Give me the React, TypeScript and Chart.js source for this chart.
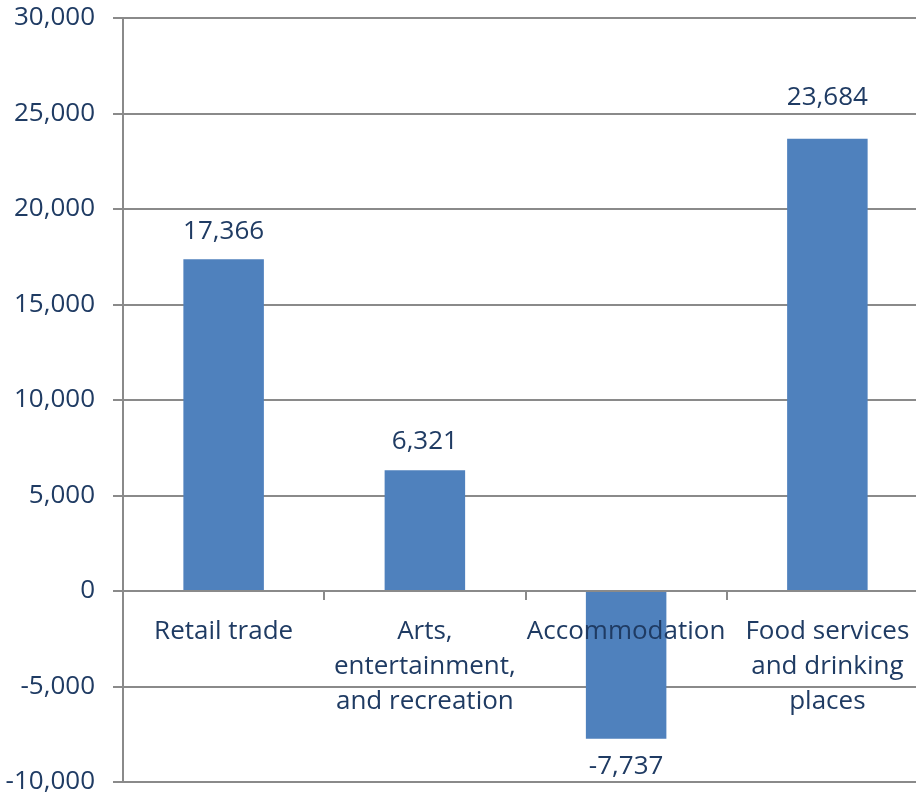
import React, { useEffect, useRef } from "react";
import { Chart, registerables } from "chart.js";

Chart.register(...registerables);

const categories: string[][] = [
  ["Retail trade"],
  ["Arts,", "entertainment,", "and recreation"],
  ["Accommodation"],
  ["Food services", "and drinking", "places"],
];
const values: number[] = [17366, 6321, -7737, 23684];
const yMin = -10000;
const yMax = 30000;
const yStep = 5000;

const TEXT = "#1F3B63";
const GRID = "#8a8a8a";
const BAR = "#4F81BD";
const FONT = "'Open Sans', sans-serif";

// distance (px) of each value label from the bar end
const labelGap = [28, 29, 28, 41];

const fmt = (v: number) => v.toLocaleString("en-US");

const valueLabels = {
  id: "valueLabels",
  afterDatasetsDraw(chart: any) {
    const ctx = chart.ctx;
    const meta = chart.getDatasetMeta(0);
    ctx.save();
    ctx.font = `26px ${FONT}`;
    ctx.fillStyle = TEXT;
    ctx.textAlign = "center";
    ctx.textBaseline = "middle";
    meta.data.forEach((el: any, i: number) => {
      const v = values[i];
      const g = labelGap[i];
      const y = v >= 0 ? el.y - g : el.y + g;
      ctx.fillText(fmt(v), el.x, y);
    });
    ctx.restore();
  },
};

export default function App() {
  const ref = useRef<HTMLCanvasElement>(null);
  useEffect(() => {
    if (!ref.current) return;
    const chart = new Chart(ref.current, {
      type: "bar",
      data: {
        labels: categories,
        datasets: [
          {
            data: values,
            backgroundColor: BAR,
            borderWidth: 0,
            categoryPercentage: 1,
            barPercentage: 0.4,
          },
        ],
      },
      options: {
        responsive: false,
        animation: false,
        devicePixelRatio: 1,
        layout: { padding: { top: 18, bottom: 13, left: 0, right: 0 } },
        plugins: { legend: { display: false }, tooltip: { enabled: false } },
        scales: {
          x: {
            position: { y: 0 } as any,
            offset: true,
            grid: {
              display: true,
              offset: true,
              drawOnChartArea: false,
              drawTicks: true,
              tickLength: 8,
              color: GRID,
              lineWidth: 2,
            },
            border: { display: true, color: GRID, width: 2, z: 1 },
            ticks: {
              z: 2,
              color: TEXT,
              font: { family: FONT, size: 26, lineHeight: 1.35 },
              padding: 15,
              maxRotation: 0,
              minRotation: 0,
              autoSkip: false,
            },
            afterFit: (scale: any) => {
              scale.paddingLeft = 0;
              scale.paddingRight = 0;
              scale.paddingTop = 0;
              scale.paddingBottom = 0;
            },
          },
          y: {
            min: yMin,
            max: yMax,
            afterFit: (scale: any) => {
              scale.width = 123;
              scale.paddingTop = 0;
              scale.paddingBottom = 0;
            },
            grid: {
              color: GRID,
              lineWidth: 2,
              drawTicks: true,
              tickLength: 10,
            },
            border: { display: true, color: GRID, width: 2 },
            ticks: {
              stepSize: yStep,
              color: TEXT,
              font: { family: FONT, size: 26, lineHeight: 1.0 },
              padding: 18,
              callback: (v: any) => fmt(Number(v)),
            },
          },
        },
      },
      plugins: [valueLabels],
    });
    return () => chart.destroy();
  }, []);
  return (
    <div
      style={{
        position: "absolute",
        left: 0,
        top: 0,
        width: 916,
        height: 795,
        overflow: "hidden",
        background: "#fff",
      }}
    >
      <canvas ref={ref} width={928} height={795} style={{ display: "block" }} />
    </div>
  );
}
